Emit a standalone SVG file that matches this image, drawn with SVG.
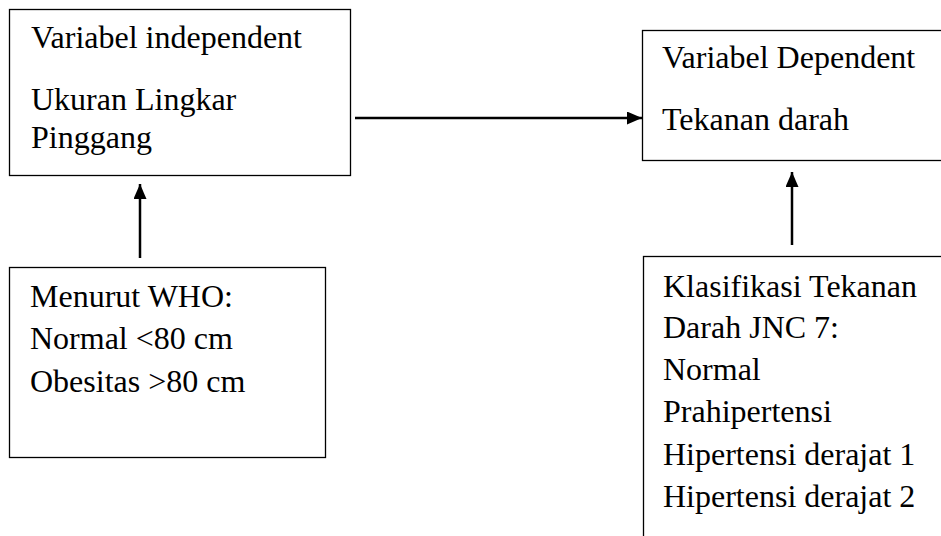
<svg xmlns="http://www.w3.org/2000/svg" width="941" height="536" viewBox="0 0 941 536">
<style>
.box{fill:#fff;stroke:#000;stroke-width:1.3}
.t{font-family:"Liberation Serif","Times New Roman",serif;font-size:32px;fill:#000}
.c{stroke:#000;stroke-width:2.5;fill:none}
</style>
<defs>
<marker id="ah" viewBox="0 0 15 13" refX="15" refY="6.5" markerWidth="15" markerHeight="13" markerUnits="userSpaceOnUse" orient="auto">
<path d="M0,0 L15,6.5 L0,13 Z" fill="#000"/>
</marker>
</defs>
<rect width="941" height="536" fill="#fff"/>
<g id="independent">
<rect class="box" x="9.5" y="9.5" width="341" height="166"/>
<text class="t" x="31" y="48">Variabel independent</text>
<text class="t" x="31" y="110">Ukuran Lingkar</text>
<text class="t" x="31" y="148">Pinggang</text>
</g>
<g id="dependent">
<rect class="box" x="642.5" y="30.5" width="310" height="130"/>
<text class="t" x="662" y="68">Variabel Dependent</text>
<text class="t" x="662" y="130">Tekanan darah</text>
</g>
<g id="who">
<rect class="box" x="9.5" y="267.5" width="316" height="190"/>
<text class="t" x="30" y="307">Menurut WHO:</text>
<text class="t" x="30" y="349">Normal &lt;80 cm</text>
<text class="t" x="30" y="392">Obesitas &gt;80 cm</text>
</g>
<g id="jnc">
<rect class="box" x="643.5" y="256.5" width="310" height="300"/>
<text class="t" x="663" y="297">Klasifikasi Tekanan</text>
<text class="t" x="663" y="338">Darah JNC 7:</text>
<text class="t" x="663" y="380">Normal</text>
<text class="t" x="663" y="422">Prahipertensi</text>
<text class="t" x="663" y="465">Hipertensi derajat 1</text>
<text class="t" x="663" y="507">Hipertensi derajat 2</text>
</g>
<g id="connectors">
<line class="c" x1="355" y1="118" x2="642" y2="118" marker-end="url(#ah)"/>
<line class="c" x1="140" y1="258" x2="140" y2="184" marker-end="url(#ah)"/>
<line class="c" x1="792" y1="245" x2="792" y2="172" marker-end="url(#ah)"/>
</g>
</svg>
